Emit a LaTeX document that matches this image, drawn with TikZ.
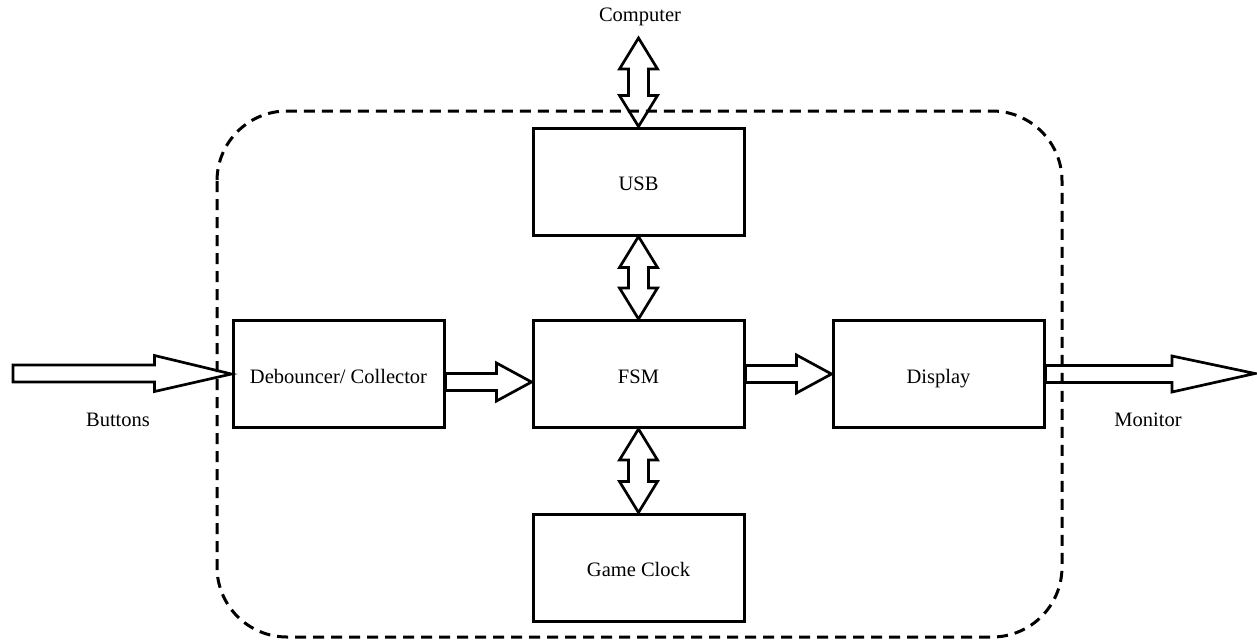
\documentclass[tikz,border=0pt]{standalone}
\usepackage{fontspec}
\setmainfont{Liberation Serif}
\usetikzlibrary{calc}

\tikzset{
  block/.style={draw, line width=3pt, minimum width=211pt, minimum height=107pt,
    inner sep=0pt, text height=20pt, text depth=2pt, font=\fontsize{20.5}{24}\selectfont},
  lbl/.style={inner sep=0pt, font=\fontsize{20.5}{24}\selectfont},
  fat/.style={draw, line width=2.7pt, line join=miter},
  boundary/.style={draw, line width=3pt, dash pattern=on 11pt off 7pt, rounded corners=70pt}
}

% hollow one-way arrow: from, to, shaft half-width, head half-width, head length
\newcommand\hollowarrow[5]{%
  \draw[fat] let \p1=(#1), \p2=(#2) in
    (\x1,\y1+#3) -- (\x2-#5,\y1+#3) -- (\x2-#5,\y1+#4) -- (\x2,\y2)
    -- (\x2-#5,\y1-#4) -- (\x2-#5,\y1-#3) -- (\x1,\y1-#3) -- cycle;}

% hollow two-way vertical arrow from an upper point to a lower point
\newcommand\hollowdouble[2]{%
  \draw[fat] let \p1=(#1), \p2=(#2) in
    (\x1,\y1) -- (\x1+19pt,\y1-31pt) -- (\x1+10pt,\y1-31pt) -- (\x1+10pt,\y2+31pt)
    -- (\x1+19pt,\y2+31pt) -- (\x1,\y2) -- (\x1-19pt,\y2+31pt) -- (\x1-10pt,\y2+31pt)
    -- (\x1-10pt,\y1-31pt) -- (\x1-19pt,\y1-31pt) -- cycle;}

\begin{document}
\begin{tikzpicture}[x=1pt, y=-1pt]
\useasboundingbox (0,0) rectangle (1257,641);

% system boundary
\draw[boundary] (217,111) rectangle (1062,637);

% blocks
\node[block] (usb)   at (638.5,181.5) {USB};
\node[block] (fsm)   at (638.5,374)   {FSM};
\node[block] (clock) at (638.5,567.5) {Game Clock};
\node[block] (deb)   at (338.5,374)   {Debouncer/ Collector};
\node[block] (disp)  at (938.5,374)   {Display};

% external labels
\node[lbl] (comp)    at (640,17)   {Computer};
\node[lbl] (buttons) at (118,420)  {Buttons};
\node[lbl] (monitor) at (1148,420) {Monitor};

% free ends of the outer arrows
\coordinate (btnin)  at (13,373.5);
\coordinate (monout) at (1255,373.5);
\coordinate (compin) at (638.5,38);

% connectors
\hollowarrow{btnin}{deb.west}{8.5pt}{18pt}{77pt}
\hollowarrow{$(deb.east)+(0,8)$}{$(fsm.west)+(0,8)$}{8.5pt}{19pt}{35pt}
\hollowarrow{fsm.east}{disp.west}{8.5pt}{19pt}{35pt}
\hollowarrow{disp.east}{monout}{8.5pt}{18pt}{83pt}
\hollowdouble{compin}{usb.north}
\hollowdouble{usb.south}{fsm.north}
\hollowdouble{fsm.south}{clock.north}
\end{tikzpicture}
\end{document}
